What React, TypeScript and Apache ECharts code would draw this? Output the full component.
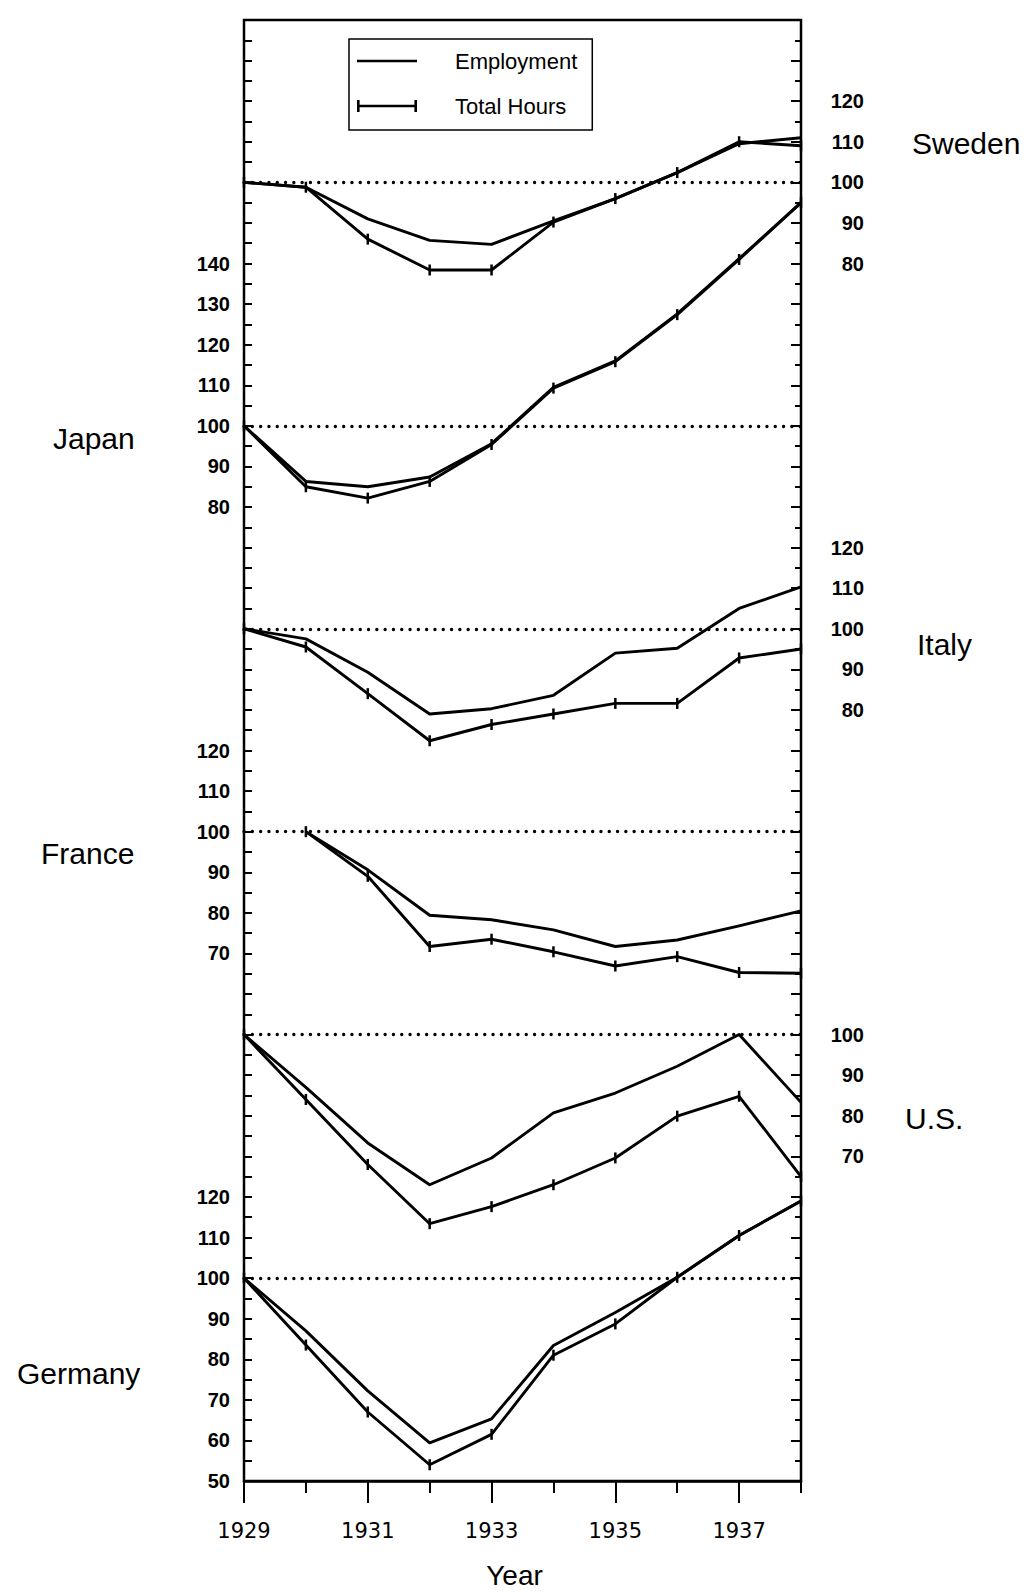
import React, { useEffect, useRef } from "react";
import * as echarts from "echarts";

// ---------------- data ----------------
const years = [1929, 1930, 1931, 1932, 1933, 1934, 1935, 1936, 1937, 1938];
const xLabelYears = [1929, 1931, 1933, 1935, 1937];

const swedenEmployment = [100, 98.8, 91, 85.7, 84.7, 90.5, 96, 102.4, 109.5, 111];
const swedenHours = [100, 98.8, 86, 78.4, 78.4, 90.2, 96, 102.4, 110, 109];

const japanEmployment = [100, 86.3, 85, 87.4, 95.6, 109.5, 116, 127.6, 141.2, 155];
const japanHours = [100, 85, 82.2, 86.3, 95.4, 109.3, 115.8, 127.4, 141, 155];

const italyEmployment = [100, 97.5, 89.3, 79, 80.3, 83.6, 94, 95.2, 105, 110.3];
const italyHours = [100, 95.5, 84, 72.4, 76.4, 79, 81.6, 81.6, 92.8, 95];

const franceEmployment = [null, 100, 90.6, 79.4, 78.3, 75.8, 71.7, 73.3, 76.8, 80.5];
const franceHours = [null, 100, 89, 71.7, 73.5, 70.4, 66.9, 69.2, 65.3, 65.1];

const usEmployment = [100, 87, 73.3, 63, 69.6, 80.7, 85.6, 92.2, 100, 83.3];
const usHours = [100, 84, 68, 53.4, 57.6, 63, 69.6, 79.9, 84.8, 65];

const germanyEmployment = [100, 87, 72.2, 59.4, 65.3, 83.4, 91.5, 100.2, 110.5, 119];
const germanyHours = [100, 83.5, 67, 54, 61.5, 81, 88.7, 100.2, 110.5, 119];

// tick-label ranges shown for each country
const swedenTicks = [80, 120];
const japanTicks = [80, 140];
const italyTicks = [80, 120];
const franceTicks = [70, 120];
const usTicks = [70, 100];
const germanyTicks = [50, 120];

// ---------------- layout (not data) ----------------
const SPAN = 360; // index units covered by the plot height
const FONT = "'Liberation Sans', Arial, Helvetica, sans-serif";

const panels = [
  { name: "Sweden", side: "right", axisMin: -220, ticks: swedenTicks, emp: swedenEmployment, hrs: swedenHours, nx: 912, ny: 143 },
  { name: "Japan", side: "left", axisMin: -160, ticks: japanTicks, emp: japanEmployment, hrs: japanHours, nx: 53, ny: 438 },
  { name: "Italy", side: "right", axisMin: -110, ticks: italyTicks, emp: italyEmployment, hrs: italyHours, nx: 917, ny: 644 },
  { name: "France", side: "left", axisMin: -60, ticks: franceTicks, emp: franceEmployment, hrs: franceHours, nx: 41, ny: 853 },
  { name: "U.S.", side: "right", axisMin: -10, ticks: usTicks, emp: usEmployment, hrs: usHours, nx: 905, ny: 1118 },
  { name: "Germany", side: "left", axisMin: 50, ticks: germanyTicks, emp: germanyEmployment, hrs: germanyHours, nx: 17, ny: 1373 },
];

export default function App() {
  const ref = useRef<HTMLDivElement>(null);

  useEffect(() => {
    document.body.style.margin = "0";
    if (!ref.current) return;
    const chart = echarts.init(ref.current, null, { renderer: "svg" });

    const yAxis: any[] = panels.map((p) => ({
      type: "value",
      gridIndex: 0,
      position: p.side,
      min: p.axisMin,
      max: p.axisMin + SPAN,
      interval: 10,
      axisLine: { show: false, onZero: false },
      axisTick: { show: false },
      minorTick: { show: false },
      splitLine: { show: false },
      axisLabel: {
        show: true,
        formatter: (v: number) => (v >= p.ticks[0] && v <= p.ticks[1] ? String(v) : ""),
        margin: p.side === "left" ? 14 : 63,
        align: "right",
        fontSize: 20,
        fontWeight: "bold",
        fontFamily: FONT,
        color: "#000",
      },
    }));
    // tick-only axes on each side
    (["left", "right"] as const).forEach((side) => {
      yAxis.push({
        type: "value",
        gridIndex: 0,
        position: side,
        min: 0,
        max: SPAN,
        interval: 10,
        axisLine: { show: false, onZero: false },
        axisLabel: { show: false },
        splitLine: { show: false },
        axisTick: { show: true, inside: true, length: side === "left" ? 8 : 10, lineStyle: { color: "#000", width: 2 } },
        minorTick: { show: true, splitNumber: 2, length: side === "left" ? 8 : 6, lineStyle: { color: "#000", width: 2 } },
      });
    });

    const series: any[] = [];
    panels.forEach((p, i) => {
      series.push({
        name: "Employment",
        type: "line",
        xAxisIndex: 0,
        yAxisIndex: i,
        data: years.map((y, k) => [y, p.emp[k] === null ? "-" : p.emp[k]]),
        symbol: "none",
        color: "#000",
        lineStyle: { color: "#000", width: 2.9, join: "round" },
        itemStyle: { color: "#000" },
        silent: true,
        markLine: {
          silent: true,
          symbol: ["none", "none"],
          label: { show: false },
          lineStyle: { color: "#000", width: 3.3, type: [0.1, 8.2], cap: "round" },
          data: [{ yAxis: 100 }],
        },
      });
      series.push({
        name: "Total Hours",
        type: "line",
        xAxisIndex: 0,
        yAxisIndex: i,
        data: years.map((y, k) => [y, p.hrs[k] === null ? "-" : p.hrs[k]]),
        symbol: "rect",
        symbolSize: [2.5, 11],
        showSymbol: true,
        color: "#000",
        lineStyle: { color: "#000", width: 2.9, join: "round" },
        itemStyle: { color: "#000" },
        silent: true,
      });
    });

    const option: any = {
      animation: false,
      backgroundColor: "#fff",
      grid: {
        left: 244,
        right: 229,
        top: 20,
        bottom: 113,
        show: true,
        borderColor: "#000",
        borderWidth: 2.5,
        backgroundColor: "transparent",
        containLabel: false,
      },
      legend: {
        left: 349,
        top: 39,
        orient: "vertical",
        selectedMode: false,
        itemWidth: 60,
        itemHeight: 12,
        itemGap: 21,
        padding: [10, 15, 12, 8],
        borderColor: "#000",
        borderWidth: 1.5,
        textStyle: { fontSize: 22, fontFamily: FONT, color: "#000", padding: [0, 0, 0, 33], lineHeight: 24 },
        data: [
          { name: "Employment", icon: "path://M0,5h60v2.4h-60z" },
          { name: "Total Hours", icon: "path://M0,0h2.6v12h-2.6zM57.4,0h2.6v12h-2.6zM0,4.8h60v2.4h-60z" },
        ],
      },
      xAxis: [
        {
          type: "value",
          gridIndex: 0,
          position: "bottom",
          min: 1929,
          max: 1938,
          interval: 1,
          axisLine: { show: true, onZero: false, lineStyle: { color: "#000", width: 2.5 } },
          axisTick: { show: true, inside: false, length: 12, lineStyle: { color: "#000", width: 2 } },
          splitLine: { show: false },
          axisLabel: {
            show: true,
            customValues: xLabelYears,
            formatter: (v: number) => String(v),
            margin: 39,
            fontSize: 21,
            fontFamily: "'DejaVu Sans', sans-serif",
            color: "#000",
          },
          name: "Year",
          nameLocation: "middle",
          nameGap: 80,
          nameTextStyle: { fontSize: 28, fontFamily: FONT, color: "#000", padding: [0, 16, 0, 0] },
        },
        {
          type: "value",
          gridIndex: 0,
          position: "bottom",
          min: 1929,
          max: 1938,
          interval: 1,
          axisLine: { show: false, onZero: false },
          axisLabel: { show: false },
          splitLine: { show: false },
          axisTick: { show: true, inside: false, length: 22, customValues: xLabelYears, lineStyle: { color: "#000", width: 2 } },
        },
      ],
      yAxis,
      series,
      graphic: panels.map((p) => ({
        type: "text",
        x: p.nx,
        y: p.ny,
        silent: true,
        style: {
          text: p.name,
          fontSize: 30,
          fontFamily: FONT,
          fill: "#000",
          align: "left",
          verticalAlign: "middle",
        },
      })),
    };

    chart.setOption(option);
    return () => chart.dispose();
  }, []);

  return <div ref={ref} style={{ width: 1030, height: 1594 }} />;
}
